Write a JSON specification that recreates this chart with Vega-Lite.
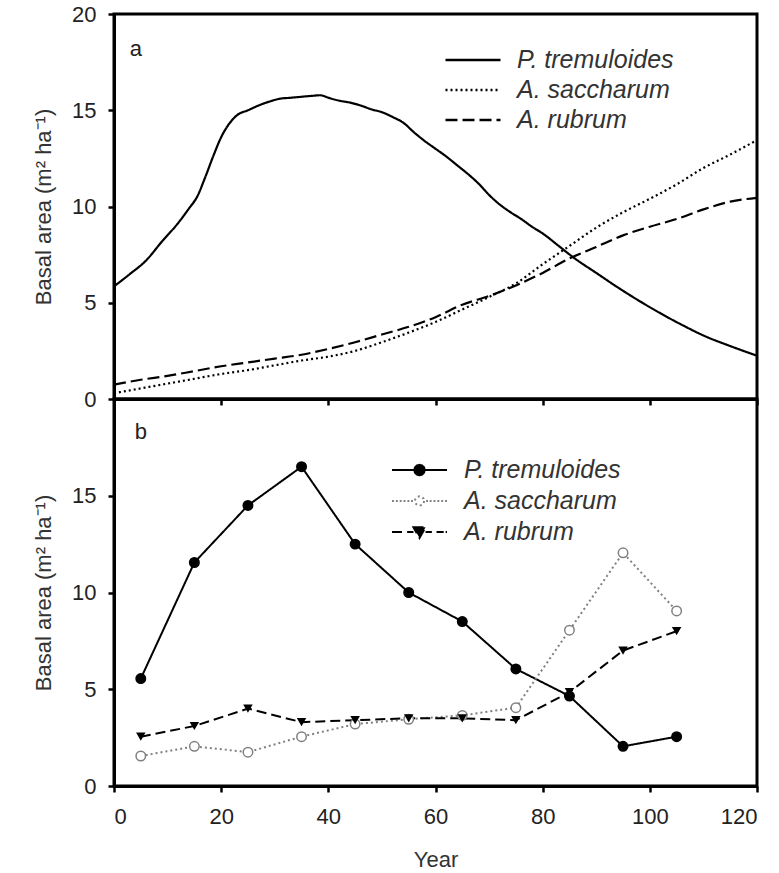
{
  "$schema": "https://vega.github.io/schema/vega-lite/v6.json",
  "background": "white",
  "padding": {"left": 31, "top": 1, "right": 20, "bottom": 0},
  "spacing": 0,
  "bounds": "flush",
  "resolve": {"legend": {"strokeDash": "independent"}, "scale": {"strokeDash": "independent"}},
  "datasets": {
    "model": [
      {"year": 0, "species": "P. tremuloides", "ba": 5.85},
      {"year": 3, "species": "P. tremuloides", "ba": 6.5},
      {"year": 6, "species": "P. tremuloides", "ba": 7.2},
      {"year": 9, "species": "P. tremuloides", "ba": 8.2},
      {"year": 12, "species": "P. tremuloides", "ba": 9.15},
      {"year": 14, "species": "P. tremuloides", "ba": 9.9},
      {"year": 15.5, "species": "P. tremuloides", "ba": 10.5},
      {"year": 17, "species": "P. tremuloides", "ba": 11.5},
      {"year": 18.5, "species": "P. tremuloides", "ba": 12.6},
      {"year": 20, "species": "P. tremuloides", "ba": 13.6},
      {"year": 21.5, "species": "P. tremuloides", "ba": 14.3},
      {"year": 23, "species": "P. tremuloides", "ba": 14.75},
      {"year": 25, "species": "P. tremuloides", "ba": 15.0},
      {"year": 27, "species": "P. tremuloides", "ba": 15.25},
      {"year": 29, "species": "P. tremuloides", "ba": 15.45},
      {"year": 31, "species": "P. tremuloides", "ba": 15.6},
      {"year": 33, "species": "P. tremuloides", "ba": 15.65},
      {"year": 35, "species": "P. tremuloides", "ba": 15.7},
      {"year": 37, "species": "P. tremuloides", "ba": 15.75},
      {"year": 38.5, "species": "P. tremuloides", "ba": 15.78},
      {"year": 40, "species": "P. tremuloides", "ba": 15.65},
      {"year": 42, "species": "P. tremuloides", "ba": 15.5},
      {"year": 44, "species": "P. tremuloides", "ba": 15.4},
      {"year": 46, "species": "P. tremuloides", "ba": 15.25},
      {"year": 48, "species": "P. tremuloides", "ba": 15.05},
      {"year": 50, "species": "P. tremuloides", "ba": 14.9},
      {"year": 52, "species": "P. tremuloides", "ba": 14.65},
      {"year": 54, "species": "P. tremuloides", "ba": 14.35},
      {"year": 56, "species": "P. tremuloides", "ba": 13.85},
      {"year": 58, "species": "P. tremuloides", "ba": 13.4},
      {"year": 60, "species": "P. tremuloides", "ba": 13.0},
      {"year": 62, "species": "P. tremuloides", "ba": 12.6},
      {"year": 64, "species": "P. tremuloides", "ba": 12.15},
      {"year": 66, "species": "P. tremuloides", "ba": 11.7},
      {"year": 68, "species": "P. tremuloides", "ba": 11.2},
      {"year": 70, "species": "P. tremuloides", "ba": 10.6},
      {"year": 72, "species": "P. tremuloides", "ba": 10.1},
      {"year": 74, "species": "P. tremuloides", "ba": 9.7},
      {"year": 76, "species": "P. tremuloides", "ba": 9.35},
      {"year": 78, "species": "P. tremuloides", "ba": 8.95},
      {"year": 80, "species": "P. tremuloides", "ba": 8.6},
      {"year": 83, "species": "P. tremuloides", "ba": 7.95},
      {"year": 86, "species": "P. tremuloides", "ba": 7.3},
      {"year": 90, "species": "P. tremuloides", "ba": 6.55},
      {"year": 94, "species": "P. tremuloides", "ba": 5.8},
      {"year": 98, "species": "P. tremuloides", "ba": 5.1},
      {"year": 102, "species": "P. tremuloides", "ba": 4.45},
      {"year": 106, "species": "P. tremuloides", "ba": 3.85},
      {"year": 110, "species": "P. tremuloides", "ba": 3.3},
      {"year": 115, "species": "P. tremuloides", "ba": 2.75},
      {"year": 120, "species": "P. tremuloides", "ba": 2.25},
      {"year": 0, "species": "A. saccharum", "ba": 0.3},
      {"year": 5, "species": "A. saccharum", "ba": 0.55},
      {"year": 10, "species": "A. saccharum", "ba": 0.8},
      {"year": 15, "species": "A. saccharum", "ba": 1.05},
      {"year": 20, "species": "A. saccharum", "ba": 1.3},
      {"year": 25, "species": "A. saccharum", "ba": 1.5},
      {"year": 30, "species": "A. saccharum", "ba": 1.75},
      {"year": 35, "species": "A. saccharum", "ba": 2.0},
      {"year": 40, "species": "A. saccharum", "ba": 2.2},
      {"year": 45, "species": "A. saccharum", "ba": 2.5},
      {"year": 50, "species": "A. saccharum", "ba": 2.95},
      {"year": 55, "species": "A. saccharum", "ba": 3.45},
      {"year": 60, "species": "A. saccharum", "ba": 4.0},
      {"year": 65, "species": "A. saccharum", "ba": 4.65},
      {"year": 70, "species": "A. saccharum", "ba": 5.3},
      {"year": 75, "species": "A. saccharum", "ba": 6.0},
      {"year": 80, "species": "A. saccharum", "ba": 7.0},
      {"year": 85, "species": "A. saccharum", "ba": 7.95},
      {"year": 90, "species": "A. saccharum", "ba": 8.9},
      {"year": 95, "species": "A. saccharum", "ba": 9.7},
      {"year": 100, "species": "A. saccharum", "ba": 10.4},
      {"year": 105, "species": "A. saccharum", "ba": 11.15},
      {"year": 110, "species": "A. saccharum", "ba": 12.0},
      {"year": 115, "species": "A. saccharum", "ba": 12.7},
      {"year": 120, "species": "A. saccharum", "ba": 13.45},
      {"year": 0, "species": "A. rubrum", "ba": 0.75},
      {"year": 5, "species": "A. rubrum", "ba": 1.0},
      {"year": 10, "species": "A. rubrum", "ba": 1.2},
      {"year": 15, "species": "A. rubrum", "ba": 1.45},
      {"year": 20, "species": "A. rubrum", "ba": 1.7},
      {"year": 25, "species": "A. rubrum", "ba": 1.9},
      {"year": 30, "species": "A. rubrum", "ba": 2.1},
      {"year": 35, "species": "A. rubrum", "ba": 2.3},
      {"year": 40, "species": "A. rubrum", "ba": 2.6},
      {"year": 45, "species": "A. rubrum", "ba": 2.95},
      {"year": 50, "species": "A. rubrum", "ba": 3.35},
      {"year": 55, "species": "A. rubrum", "ba": 3.75},
      {"year": 60, "species": "A. rubrum", "ba": 4.25},
      {"year": 65, "species": "A. rubrum", "ba": 4.9},
      {"year": 70, "species": "A. rubrum", "ba": 5.35},
      {"year": 75, "species": "A. rubrum", "ba": 5.9},
      {"year": 80, "species": "A. rubrum", "ba": 6.55},
      {"year": 85, "species": "A. rubrum", "ba": 7.3},
      {"year": 90, "species": "A. rubrum", "ba": 7.9},
      {"year": 95, "species": "A. rubrum", "ba": 8.5},
      {"year": 100, "species": "A. rubrum", "ba": 8.95},
      {"year": 105, "species": "A. rubrum", "ba": 9.35},
      {"year": 110, "species": "A. rubrum", "ba": 9.85},
      {"year": 115, "species": "A. rubrum", "ba": 10.25},
      {"year": 120, "species": "A. rubrum", "ba": 10.45}
    ],
    "obs": [
      {"year": 5, "species": "P. tremuloides", "ba": 5.55},
      {"year": 15, "species": "P. tremuloides", "ba": 11.55},
      {"year": 25, "species": "P. tremuloides", "ba": 14.5},
      {"year": 35, "species": "P. tremuloides", "ba": 16.5},
      {"year": 45, "species": "P. tremuloides", "ba": 12.5},
      {"year": 55, "species": "P. tremuloides", "ba": 10.0},
      {"year": 65, "species": "P. tremuloides", "ba": 8.5},
      {"year": 75, "species": "P. tremuloides", "ba": 6.05},
      {"year": 85, "species": "P. tremuloides", "ba": 4.65},
      {"year": 95, "species": "P. tremuloides", "ba": 2.05},
      {"year": 105, "species": "P. tremuloides", "ba": 2.55},
      {"year": 5, "species": "A. saccharum", "ba": 1.55},
      {"year": 15, "species": "A. saccharum", "ba": 2.05},
      {"year": 25, "species": "A. saccharum", "ba": 1.75},
      {"year": 35, "species": "A. saccharum", "ba": 2.55},
      {"year": 45, "species": "A. saccharum", "ba": 3.2},
      {"year": 55, "species": "A. saccharum", "ba": 3.45},
      {"year": 65, "species": "A. saccharum", "ba": 3.65},
      {"year": 75, "species": "A. saccharum", "ba": 4.05},
      {"year": 85, "species": "A. saccharum", "ba": 8.05},
      {"year": 95, "species": "A. saccharum", "ba": 12.05},
      {"year": 105, "species": "A. saccharum", "ba": 9.05},
      {"year": 5, "species": "A. rubrum", "ba": 2.55},
      {"year": 15, "species": "A. rubrum", "ba": 3.1},
      {"year": 25, "species": "A. rubrum", "ba": 4.0},
      {"year": 35, "species": "A. rubrum", "ba": 3.3},
      {"year": 45, "species": "A. rubrum", "ba": 3.4},
      {"year": 55, "species": "A. rubrum", "ba": 3.5},
      {"year": 65, "species": "A. rubrum", "ba": 3.5},
      {"year": 75, "species": "A. rubrum", "ba": 3.4},
      {"year": 85, "species": "A. rubrum", "ba": 4.85},
      {"year": 95, "species": "A. rubrum", "ba": 7.0},
      {"year": 105, "species": "A. rubrum", "ba": 8.0}
    ]
  },
  "vconcat": [
    {
      "width": 643,
      "height": 385,
      "layer": [
        {
          "data": {"name": "model"},
          "mark": {"type": "line", "color": "black", "strokeWidth": 2.2, "interpolate": "monotone"},
          "encoding": {
            "x": {"field": "year", "type": "quantitative", "scale": {"domain": [0, 120], "nice": false},
                  "axis": {"values": [0, 20, 40, 60, 80, 100, 120], "labels": false, "title": null}},
            "y": {"field": "ba", "type": "quantitative", "scale": {"domain": [0, 20], "nice": false},
                  "axis": {"values": [0, 5, 10, 15, 20], "title": "Basal area (m² ha⁻¹)"}},
            "strokeDash": {
              "field": "species", "type": "nominal",
              "scale": {"domain": ["P. tremuloides", "A. saccharum", "A. rubrum"], "range": [[1, 0], [2, 3], [12, 5]]},
              "legend": {
                "title": null, "orient": "none", "legendX": 330, "legendY": 34,
                "symbolType": "stroke", "symbolSize": 3025, "symbolStrokeWidth": 2.7, "symbolStrokeColor": "black",
                "labelFont": "Liberation Sans", "labelFontStyle": "italic", "labelFontSize": 25, "labelColor": "#333",
                "labelOffset": 15, "clipHeight": 24, "rowPadding": 5, "padding": 0
              }
            }
          }
        },
        {
          "data": {"values": [{"label": "a"}]},
          "mark": {"type": "text", "fontSize": 22, "color": "#222", "font": "Liberation Sans"},
          "encoding": {
            "x": {"datum": 4.1, "type": "quantitative"},
            "y": {"datum": 18.2, "type": "quantitative"},
            "text": {"field": "label"}
          }
        }
      ]
    },
    {
      "width": 643,
      "height": 387,
      "layer": [
        {
          "data": {"name": "obs"},
          "mark": {"type": "line", "strokeWidth": 2},
          "encoding": {
            "x": {"field": "year", "type": "quantitative", "scale": {"domain": [0, 120], "nice": false},
                  "axis": {"values": [0, 20, 40, 60, 80, 100, 120], "title": "Year"}},
            "y": {"field": "ba", "type": "quantitative", "scale": {"domain": [0, 20], "nice": false},
                  "axis": {"values": [0, 5, 10, 15], "title": "Basal area (m² ha⁻¹)"}},
            "strokeDash": {
              "field": "species", "type": "nominal",
              "scale": {"domain": ["P. tremuloides", "A. saccharum", "A. rubrum"], "range": [[1, 0], [2, 3], [10, 5]]},
              "legend": {
                "title": null, "orient": "none", "legendX": 277, "legendY": 59,
                "symbolType": "stroke", "symbolSize": 3025, "symbolStrokeWidth": 2, "symbolStrokeColor": "black",
                "labelFont": "Liberation Sans", "labelFontStyle": "italic", "labelFontSize": 25, "labelColor": "#333",
                "labelOffset": 16, "clipHeight": 24, "rowPadding": 6, "padding": 0,
                "encode": {
                  "symbols": {
                    "update": {
                      "shape": {"signal": "datum.value === 'P. tremuloides' ? 'M-1,0H1M0.19,0L0.165,0.095L0.095,0.165L0,0.19L-0.095,0.165L-0.165,0.095L-0.19,0L-0.165,-0.095L-0.095,-0.165L0,-0.19L0.095,-0.165L0.165,-0.095Z' : datum.value === 'A. saccharum' ? 'M-1,0h0.07M-0.86,0h0.07M-0.72,0h0.07M-0.58,0h0.07M-0.44,0h0.07M-0.31,0h0.07M0.24,0h0.07M0.37,0h0.07M0.51,0h0.07M0.65,0h0.07M0.79,0h0.07M0.93,0h0.07M0.17,0L0.147,0.085L0.085,0.147L0,0.17L-0.085,0.147L-0.147,0.085L-0.17,0L-0.147,-0.085L-0.085,-0.147L0,-0.17L0.085,-0.147L0.147,-0.085Z' : 'M-1,0H-0.62M-0.45,0H-0.22M0.22,0H0.45M0.62,0H0.88M0.95,0H1M-0.22,-0.17L0.22,-0.17L0,0.22Z'"},
                      "fill": {"signal": "datum.value === 'A. saccharum' ? 'white' : 'black'"},
                      "stroke": {"signal": "datum.value === 'A. saccharum' ? '#808080' : 'black'"},
                      "strokeWidth": {"value": 2},
                      "fillOpacity": {"value": 1},
                      "strokeDash": {"value": [1, 0]}
                    }
                  }
                }
              }
            },
            "color": {
              "field": "species", "type": "nominal",
              "scale": {"domain": ["P. tremuloides", "A. saccharum", "A. rubrum"], "range": ["black", "#808080", "black"]},
              "legend": null
            }
          }
        },
        {
          "data": {"name": "obs"},
          "transform": [{"filter": "datum.species !== 'A. rubrum'"}],
          "mark": {"type": "point", "shape": "circle", "filled": false, "strokeWidth": 1.5, "opacity": 1, "size": 90},
          "encoding": {
            "x": {"field": "year", "type": "quantitative"},
            "y": {"field": "ba", "type": "quantitative"},
            "fill": {
              "field": "species", "type": "nominal",
              "scale": {"domain": ["P. tremuloides", "A. saccharum"], "range": ["black", "white"]},
              "legend": null
            },
            "stroke": {
              "field": "species", "type": "nominal",
              "scale": {"domain": ["P. tremuloides", "A. saccharum"], "range": ["black", "#808080"]},
              "legend": null
            }
          }
        },
        {
          "data": {"name": "obs"},
          "transform": [{"filter": "datum.species === 'A. rubrum'"}],
          "mark": {"type": "point", "shape": "triangle-down", "filled": true, "color": "black", "opacity": 1, "size": 90},
          "encoding": {
            "x": {"field": "year", "type": "quantitative"},
            "y": {"field": "ba", "type": "quantitative"}
          }
        },
        {
          "data": {"values": [{"label": "b"}]},
          "mark": {"type": "text", "fontSize": 22, "color": "#222", "font": "Liberation Sans"},
          "encoding": {
            "x": {"datum": 5, "type": "quantitative"},
            "y": {"datum": 18.3, "type": "quantitative"},
            "text": {"field": "label"}
          }
        }
      ]
    }
  ],
  "config": {
    "font": "Liberation Sans",
    "view": {"stroke": "black", "strokeWidth": 3},
    "axis": {
      "labelFont": "Liberation Sans", "labelFontSize": 22, "labelColor": "#222",
      "titleFont": "Liberation Sans", "titleFontSize": 22, "titleFontWeight": "normal", "titleColor": "#333",
      "domainColor": "black", "domainWidth": 3, "tickColor": "black", "tickWidth": 2.5, "tickSize": 6,
      "labelPadding": 12, "grid": false
    },
    "axisY": {"titlePadding": 16},
    "axisX": {"titlePadding": 22, "labelPadding": 14}
  }
}
